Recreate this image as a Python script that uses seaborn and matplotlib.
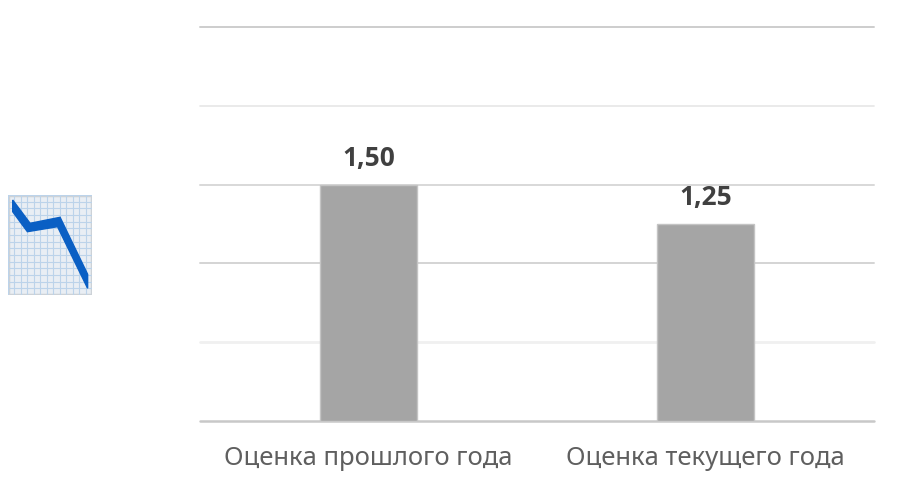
import matplotlib
matplotlib.use("Agg")
import matplotlib.pyplot as plt
from matplotlib.patches import Rectangle
import numpy as np
import pandas as pd
import seaborn as sns

categories = ["Оценка прошлого года", "Оценка текущего года"]
values = [1.50, 1.25]
value_labels = ["1,50", "1,25"]
y_ticks = [0, 0.5, 1.0, 1.5, 2.0, 2.5]
grid_colors = ["#c8c8c8", "#f0f0f0", "#d4d4d4", "#d8d8d8", "#e6e6e6", "#cdcdcd"]
grid_widths = [1.8, 2.0, 1.4, 1.4, 1.2, 1.4]

# icon: falling line on graph paper (axes units 0-1)
icon_line_x = [0.056, 0.263, 0.62, 0.948, 0.948, 0.59, 0.231, 0.056]
icon_line_y = [0.95, 0.717, 0.777, 0.207, 0.067, 0.683, 0.633, 0.833]

sns.set_theme(style="white")
plt.rcParams["font.family"] = ["Noto Sans", "DejaVu Sans"]

df = pd.DataFrame({"cat": categories, "val": values})

fig = plt.figure(figsize=(9, 4.9), dpi=100)
ax = fig.add_axes([200 / 900, 1 - 421 / 490, 674 / 900, 394 / 490])

sns.barplot(data=df, x="cat", y="val", color="#a5a5a5", saturation=1, width=0.29,
            edgecolor="#c4c4c4", linewidth=1, ax=ax, zorder=3)

ax.set_ylim(0, 2.5)
ax.set_yticks(y_ticks)
ax.set_xlabel("")
ax.set_ylabel("")
ax.tick_params(axis="y", left=False, labelleft=False)
ax.tick_params(axis="x", bottom=False, labelsize=18.5, labelcolor="#5f5f5f", pad=12)
sns.despine(ax=ax, left=True, right=True, top=True, bottom=True)

for y, c, w in zip(y_ticks, grid_colors, grid_widths):
    ax.axhline(y, color=c, linewidth=w, zorder=1, clip_on=False)

for i, (v, lab) in enumerate(zip(values, value_labels)):
    ax.annotate(lab, (i, v), xytext=(0, 9), textcoords="offset points", ha="center",
                va="bottom", fontsize=19, fontweight="bold", color="#404040",
                family=["Open Sans", "DejaVu Sans"])

# icon
icon = fig.add_axes([8 / 900, 1 - 295 / 490, 84 / 900, 100 / 490])
icon.set_xlim(0, 1)
icon.set_ylim(0, 1)
icon.set_facecolor("#e9eef4")
for g in np.linspace(0, 1, 14):
    icon.axvline(g, color="#bcd3ea", linewidth=0.8)
for g in np.linspace(0, 1, 16):
    icon.axhline(g, color="#bcd3ea", linewidth=0.8)
icon.add_patch(Rectangle((0, 0), 1, 1, fill=False, edgecolor="#cfd2d6", linewidth=2.5))
icon.fill(icon_line_x, icon_line_y, color="#0a5fc4", zorder=5, clip_on=False)
icon.set_xticks([])
icon.set_yticks([])
for s in icon.spines.values():
    s.set_visible(False)

fig.savefig("out.png", dpi=100)
